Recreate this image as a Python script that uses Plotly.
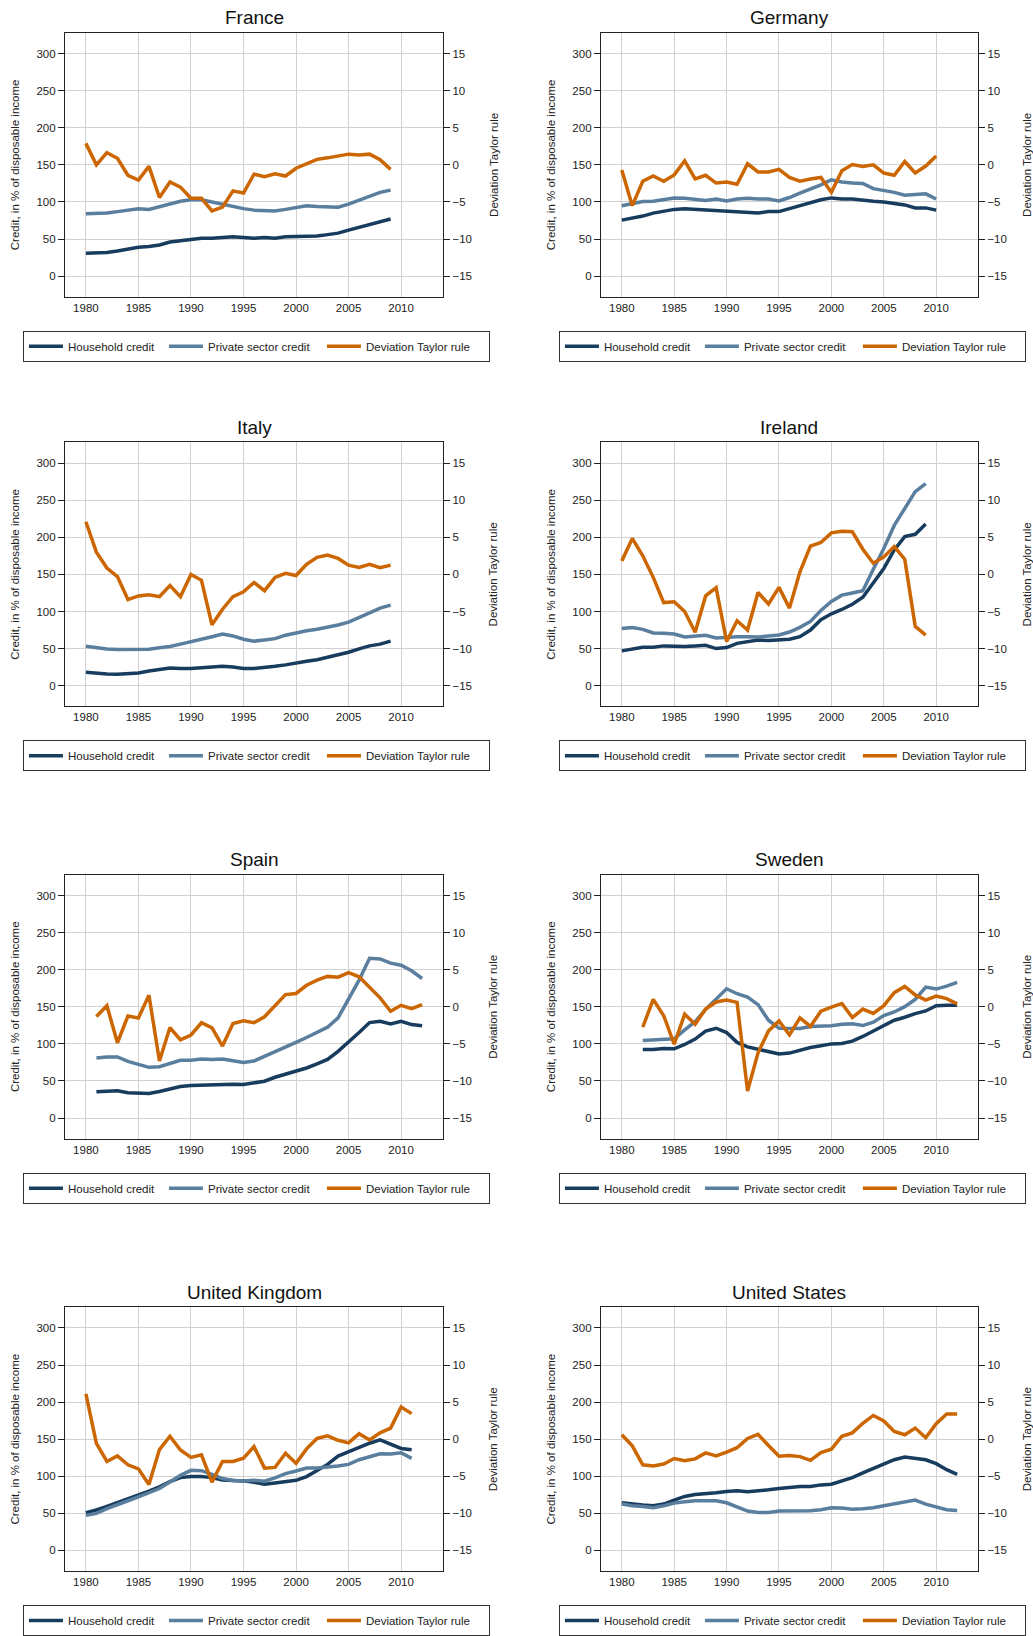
import plotly.graph_objects as go

# Credit (% of disposable income, left axis) and deviation from the Taylor rule (right axis)

countries = ["France", "Germany", "Italy", "Ireland",
             "Spain", "Sweden", "United Kingdom", "United States"]

fr_years = list(range(1980, 2010))
fr_household = [31, 31, 32, 34, 37, 39, 40, 42, 46, 48, 49, 51, 51, 52, 53,
                52, 51, 52, 51, 53, 53, 53, 54, 56, 58, 62, 66, 70, 73, 77]
fr_private = [84, 84, 85, 87, 89, 91, 90, 94, 97, 101, 103, 103, 100, 97, 93,
              91, 89, 88, 88, 90, 92, 95, 94, 93, 93, 97, 102, 107, 113, 116]
fr_taylor = [2.9, 0.0, 1.65, 0.9, -1.4, -2.05, -0.2, -4.4, -2.3, -3.0, -4.5, -4.5,
             -6.2, -5.7, -3.5, -3.8, -1.25, -1.6, -1.2, -1.5, -0.45, 0.1, 0.75,
             0.95, 1.2, 1.45, 1.35, 1.45, 0.7, -0.6]

de_years = list(range(1980, 2011))
de_household = [75.5, 78, 81, 85, 88, 90, 91, 90, 89, 89, 88, 87, 86, 85, 87, 87,
                91, 95, 98, 103, 105.5, 104, 104, 102, 101, 100, 98, 96, 92, 92, 89]
de_private = [95, 98, 100.5, 101, 103, 105.5, 105, 104, 102, 104, 101.5, 104, 105,
              104, 104, 101.5, 106, 112, 117, 123, 130, 127, 125.5, 125, 118, 116,
              113, 109, 110, 111, 104]
de_taylor = [-0.7, -5.5, -2.2, -1.5, -2.2, -1.35, 0.55, -1.9, -1.4, -2.45, -2.3,
             -2.6, 0.15, -0.95, -0.95, -0.6, -1.7, -2.2, -1.9, -1.7, -3.7, -0.8,
             0.05, -0.2, 0.0, -1.1, -1.4, 0.45, -1.1, -0.15, 1.2]

it_years = list(range(1980, 2010))
it_household = [18, 16.5, 15.6, 15.2, 15.6, 17, 19.6, 22, 23.7, 23.2, 23, 24, 25,
                26, 25, 23, 23, 24, 26, 28, 31, 33, 35, 38, 41, 45, 49.6, 53.6, 56, 60]
it_private = [53, 51, 49.5, 48.7, 49, 49.5, 49, 51, 52.7, 56, 59, 62, 66, 69.6, 67,
              62.5, 60, 61.6, 63.4, 68, 71.4, 74, 76, 78.6, 81.7, 85.7, 91.5, 98,
              104.5, 108.5]
it_taylor = [7.1, 3.0, 0.85, -0.3, -3.4, -2.9, -2.75, -3.0, -1.5, -3.0, 0.0, -0.8,
             -6.8, -4.7, -3.0, -2.35, -1.1, -2.2, -0.4, 0.15, -0.15, 1.35, 2.3, 2.6,
             2.15, 1.25, 0.95, 1.35, 0.9, 1.25]

ie_years = list(range(1980, 2010))
ie_household = [46.9, 49.6, 51.8, 51.8, 53.6, 53, 52.7, 53.6, 54.5, 50, 51.3, 57,
                59, 61.6, 60.7, 61.6, 62.5, 66, 75, 88.8, 96.9, 102.7, 109.8, 119.2,
                138, 158, 183, 200.9, 204, 218]
ie_private = [77, 78.5, 75.9, 71, 70.5, 69.6, 65.6, 66.5, 67.9, 64.3, 65.6, 66, 66,
              65.6, 67, 68.3, 72.3, 78.6, 86.6, 101.3, 113.4, 122, 125, 128, 157,
              184.8, 216, 239.7, 261.6, 272.3]
ie_taylor = [1.8, 4.85, 2.5, -0.4, -3.8, -3.7, -5.0, -7.8, -2.9, -1.8, -9.05, -6.25,
             -7.5, -2.45, -4.0, -1.75, -4.55, 0.35, 3.8, 4.3, 5.6, 5.8, 5.75, 3.4,
             1.5, 2.35, 3.75, 2.05, -7.0, -8.2]

es_years = list(range(1981, 2013))
es_household = [35.3, 36.2, 36.7, 34, 33, 33, 35.8, 38.9, 42.5, 43.8, 44.3, 44.7,
                45.6, 45.6, 45.2, 47, 49.6, 55, 59, 63, 67.5, 72.9, 79, 89.9, 102,
                115.3, 128.7, 130.5, 127, 130.5, 126, 124.3]
es_private = [80.9, 82.3, 82.3, 76.4, 72.4, 68.4, 69.3, 73.3, 77.8, 77.8, 79.6, 79.1,
              79.6, 77.3, 75, 76.9, 83, 89.9, 94.8, 102, 108.6, 115.3, 122.5, 135,
              160, 186, 215.5, 214.6, 208.8, 206, 198.5, 188.2]
es_taylor = [-1.3, 0.15, -4.85, -1.25, -1.5, 1.55, -7.3, -2.8, -4.45, -3.8, -2.15,
             -2.85, -5.3, -2.25, -1.9, -2.15, -1.35, 0.1, 1.65, 1.8, 2.9, 3.6, 4.1,
             4.0, 4.6, 4.05, 2.7, 1.2, -0.6, 0.2, -0.25, 0.3]

se_years = list(range(1982, 2013))
se_household = [92.5, 92.5, 93.9, 93.4, 99.2, 106.4, 117.1, 121.1, 115.3, 102, 96,
                93, 90.3, 86.3, 87.6, 91.6, 95.2, 97.5, 100, 100.6, 103.7, 110, 117.6,
                125.6, 131.9, 135.9, 140.8, 144.4, 151.5, 152, 152]
se_private = [104.6, 105.5, 106.4, 106.8, 118.9, 130, 146.6, 160, 174.3, 167.6, 163.2,
              152.9, 131.9, 121.1, 120.7, 120.7, 123.4, 123.8, 124.3, 126.5, 127,
              124.7, 129.2, 138.1, 143, 150.2, 160, 176.6, 173.9, 177.9, 182.8]
se_taylor = [-2.75, 1.0, -1.2, -5.05, -1.0, -2.35, -0.3, 0.65, 0.9, 0.6, -11.35,
             -6.2, -3.25, -1.9, -3.8, -1.5, -2.65, -0.6, -0.05, 0.45, -1.45, -0.3,
             -0.9, 0.15, 1.9, 2.75, 1.6, 0.9, 1.45, 1.1, 0.4]

uk_years = list(range(1980, 2012))
uk_household = [50.9, 54.5, 59.4, 64.3, 70.1, 74.5, 79.9, 85.7, 92.9, 98.2, 99.6,
                99.6, 98.2, 95.1, 94.6, 93.8, 92, 89.3, 91, 93.3, 94.6, 99.6, 107.6,
                116, 127.2, 133, 138.4, 144.6, 149.1, 143.3, 137.5, 135.7]
uk_private = [47.3, 50, 56.3, 61.2, 67, 72.3, 78.1, 83.5, 92.4, 101.3, 108, 107.6,
              102.7, 96.9, 94.2, 93.8, 94.6, 93.3, 97.8, 103.6, 107.1, 111.2, 111.2,
              112, 113.8, 116, 122.3, 126.3, 130.4, 129.9, 131.7, 124.1]
uk_taylor = [6.1, -0.55, -3.0, -2.25, -3.45, -4.0, -6.1, -1.4, 0.4, -1.45, -2.45,
             -2.1, -5.8, -3.0, -3.0, -2.55, -1.0, -3.9, -3.8, -1.9, -3.25, -1.3, 0.1,
             0.45, -0.15, -0.5, 0.75, -0.1, 0.85, 1.5, 4.35, 3.45]

us_years = list(range(1980, 2013))
us_household = [64.3, 62.5, 61.2, 60.3, 62.5, 67.9, 72.8, 75.4, 76.3, 77.7, 79.5,
                80.4, 79, 79.9, 81.7, 83.5, 85.3, 86.2, 86.2, 88.4, 89.3, 93.3, 98.2,
                104.5, 110.3, 117, 122.3, 125.9, 124.1, 122.3, 117, 108.9, 102.7]
us_private = [62.5, 60.3, 59.4, 57.6, 60.3, 63.8, 65.6, 67, 67, 67, 64.3, 58.5, 53.1,
              51.3, 51.3, 53.1, 53.1, 53.1, 53.6, 54.9, 57.6, 57.1, 55.4, 56.2, 57.6,
              60.3, 62.9, 66.1, 67.9, 62.5, 58.5, 54.9, 54]
us_taylor = [0.6, -0.9, -3.45, -3.6, -3.35, -2.6, -2.9, -2.65, -1.85, -2.25, -1.75,
             -1.15, 0.1, 0.65, -0.85, -2.3, -2.2, -2.35, -2.85, -1.8, -1.35, 0.4,
             0.85, 2.15, 3.2, 2.45, 1.05, 0.6, 1.5, 0.2, 2.1, 3.4, 3.4]

panels = [
    (fr_years, fr_household, fr_private, fr_taylor),
    (de_years, de_household, de_private, de_taylor),
    (it_years, it_household, it_private, it_taylor),
    (ie_years, ie_household, ie_private, ie_taylor),
    (es_years, es_household, es_private, es_taylor),
    (se_years, se_household, se_private, se_taylor),
    (uk_years, uk_household, uk_private, uk_taylor),
    (us_years, us_household, us_private, us_taylor),
]

series_names = ["Household credit", "Private sector credit", "Deviation Taylor rule"]
series_colors = ["#183c5e", "#5a7e9e", "#cc6600"]
legend_widths = [91, 109, 118]  # px per legend entry, to spread the items like the original

W, H = 1033, 1636
FONT = "Liberation Sans, Arial, sans-serif"

# pixel geometry of the 4x2 grid
col_left = [65, 602]
col_right = [444, 980]
row_top = [33, 444, 878, 1312]
plot_h = 265
legend_left = [23, 560]

fig = go.Figure()
layout = {}
annotations = []

for i, (years, hh, priv, dev) in enumerate(panels):
    r, c = divmod(i, 2)
    xid = i + 1
    yl = 2 * i + 1
    yr = 2 * i + 2
    xname = "x" if xid == 1 else f"x{xid}"
    ylname = "y" if yl == 1 else f"y{yl}"
    yrname = f"y{yr}"
    leg = "legend" if i == 0 else f"legend{i + 1}"

    for vals, name, color, yname, lw in zip((hh, priv, dev), series_names, series_colors,
                                             (ylname, ylname, yrname), legend_widths):
        fig.add_trace(go.Scatter(
            x=years, y=vals, name=name, mode="lines",
            line=dict(color=color, width=3.5),
            xaxis=xname, yaxis=yname, legend=leg, legendwidth=lw,
        ))

    xdom = [col_left[c] / W, col_right[c] / W]
    ydom = [1 - (row_top[r] + plot_h) / H, 1 - row_top[r] / H]

    axis_font = dict(family=FONT, size=11.5, color="#222")
    layout["xaxis" if xid == 1 else f"xaxis{xid}"] = dict(
        domain=xdom, anchor=ylname, range=[1978, 2014],
        tickvals=[1980, 1985, 1990, 1995, 2000, 2005, 2010],
        showgrid=True, gridcolor="#d2d2d2", gridwidth=1,
        showline=True, linecolor="#222", linewidth=1, mirror=True,
        ticks="", tickfont=axis_font, zeroline=False,
    )
    layout["yaxis" if yl == 1 else f"yaxis{yl}"] = dict(
        domain=ydom, anchor=xname, range=[-28, 328],
        tickvals=[0, 50, 100, 150, 200, 250, 300],
        showgrid=True, gridcolor="#d2d2d2", gridwidth=1,
        showline=True, linecolor="#222", linewidth=1,
        ticks="outside", ticklen=6, tickcolor="#222", tickfont=axis_font,
        zeroline=False,
        title=dict(text="Credit, in % of disposable income",
                   font=dict(family=FONT, size=11.5, color="#222"), standoff=14),
    )
    layout[f"yaxis{yr}"] = dict(
        domain=ydom, anchor=xname, overlaying=ylname, side="right",
        range=[-17.8, 17.8], tickvals=[-15, -10, -5, 0, 5, 10, 15],
        showgrid=False, showline=True, linecolor="#222", linewidth=1,
        ticks="outside", ticklen=6, tickcolor="#222", tickfont=axis_font,
        zeroline=False,
        title=dict(text="Deviation Taylor rule",
                   font=dict(family=FONT, size=11.5, color="#222"), standoff=18),
    )

    layout[leg] = dict(
        x=legend_left[c] / W, y=1 - (row_top[r] + plot_h + 34) / H,
        xanchor="left", yanchor="top", orientation="h",
        bordercolor="#333", borderwidth=1, bgcolor="white",
        font=dict(family=FONT, size=11.5, color="#222"),
        itemwidth=34, tracegroupgap=0,
    )

    annotations.append(dict(
        text=countries[i], xref="paper", yref="paper",
        x=(col_left[c] + col_right[c]) / 2 / W,
        y=1 - (row_top[r] - 15) / H,
        xanchor="center", yanchor="middle", showarrow=False,
        font=dict(family=FONT, size=19, color="#111"),
    ))

fig.update_layout(
    width=W, height=H,
    margin=dict(l=0, r=0, t=0, b=0),
    paper_bgcolor="white", plot_bgcolor="white",
    font=dict(family=FONT),
    annotations=annotations,
    **layout,
)

# drop the default page margin so the figure sits at the window's top-left corner
fig.write_html("out.html", config={"displayModeBar": False},
               post_script="document.body.style.margin = '0px';")
